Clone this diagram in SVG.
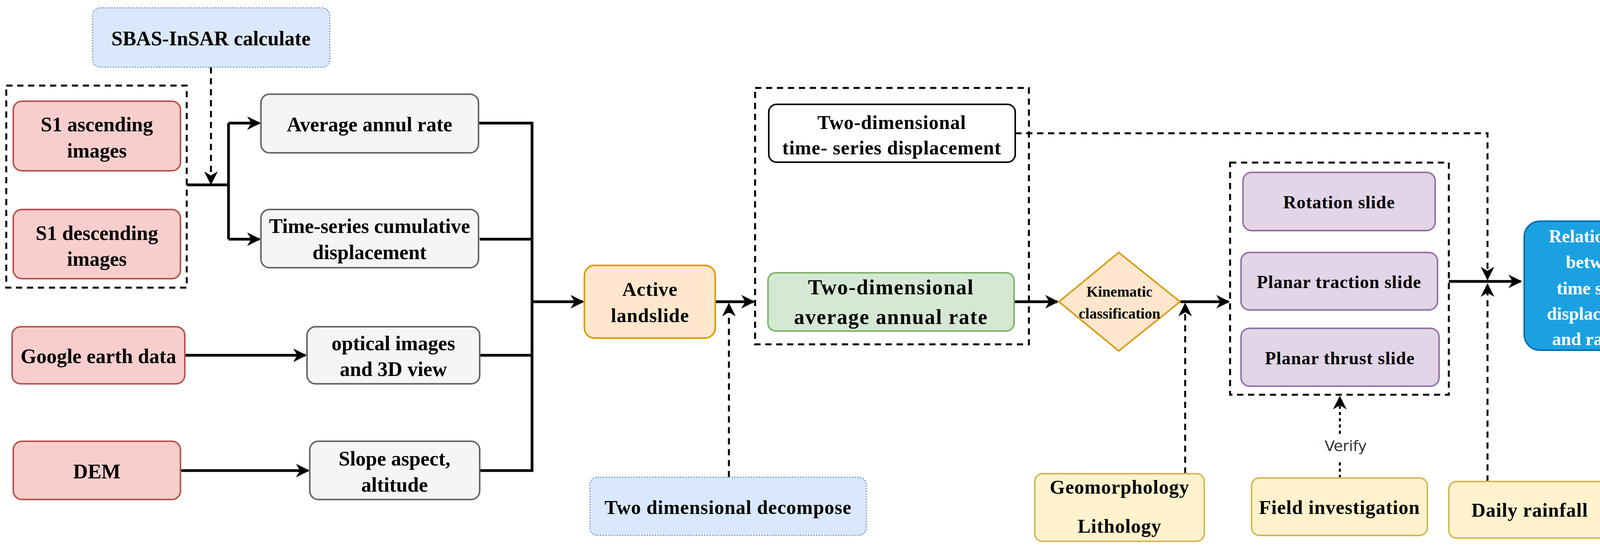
<svg xmlns="http://www.w3.org/2000/svg" width="4282" height="1397" viewBox="0 0 4282 1397">
<defs>
<style>
text{font-family:"Liberation Serif","Times New Roman",serif;font-weight:bold;fill:#000;text-anchor:middle;dominant-baseline:central}
.red{fill:#f8cecc;stroke:#b85450;stroke-width:4}
.gray{fill:#f5f5f5;stroke:#666;stroke-width:4}
.blued{fill:#dae8fc;stroke:#6c8ebf;stroke-width:3;stroke-dasharray:3 4}
.yel{fill:#fff2cc;stroke:#d6b656;stroke-width:4}
.pur{fill:#e1d5e7;stroke:#9673a6;stroke-width:4}
.grp{fill:none;stroke:#000;stroke-width:5;stroke-dasharray:16 12}
.ln{fill:none;stroke:#000;stroke-width:7}
.ds{fill:none;stroke:#000;stroke-width:5;stroke-dasharray:16 12}
.t52{font-size:52px}
.t50{font-size:50px;letter-spacing:1px}
.t46{font-size:46px;letter-spacing:1px}
.w{fill:#fff;font-size:46px}
</style>
<marker id="ah" viewBox="0 0 10 10" refX="9" refY="5" markerWidth="5" markerHeight="5" markerUnits="strokeWidth" orient="auto"><path d="M0,0 L10,5 L0,10 L3,5 Z" fill="#000"/></marker>
<marker id="ahs" viewBox="0 0 10 10" refX="9" refY="5" markerWidth="7" markerHeight="7" markerUnits="strokeWidth" orient="auto"><path d="M0,0 L10,5 L0,10 L3,5 Z" fill="#000"/></marker>
</defs>
<g id="connectors">
<path class="ds" d="M540,172 V470" marker-end="url(#ahs)"/>
<path class="ln" d="M478,473 H585"/>
<path class="ln" d="M585,315 V612"/>
<path class="ln" d="M585,315 H664" marker-end="url(#ah)"/>
<path class="ln" d="M585,612 H664" marker-end="url(#ah)"/>
<path class="ln" d="M473,909 H782" marker-end="url(#ah)"/>
<path class="ln" d="M462,1204 H789" marker-end="url(#ah)"/>
<path class="ln" d="M1225,315 H1362 V1204 H1228"/>
<path class="ln" d="M1228,612 H1362 M1228,909 H1362"/>
<path class="ln" d="M1362,772 H1492" marker-end="url(#ah)"/>
<path class="ln" d="M1831,772 H1929" marker-end="url(#ah)"/>
<path class="ds" d="M1866,1221 V778" marker-end="url(#ahs)"/>
<path class="ln" d="M2596,772 H2707" marker-end="url(#ah)"/>
<path class="ln" d="M3021,772 H3145" marker-end="url(#ah)"/>
<path class="ds" d="M3034,1212 V778" marker-end="url(#ahs)"/>
<path class="ds" d="M2599,341 H3808 V714" marker-end="url(#ahs)"/>
<path class="ln" d="M3709,720 H3893" marker-end="url(#ah)"/>
<path class="ds" d="M3808,1232 V728" marker-end="url(#ahs)"/>
<path class="ds" d="M3430,1223 V1175 M3430,1110 V1016" marker-end="url(#ahs)" style="stroke-dasharray:8 8"/>
<text x="3445" y="1141" style="font-family:'DejaVu Sans',sans-serif;font-weight:normal;font-size:38px;fill:#333">Verify</text>
</g>
<g id="group-s1"><rect class="grp" x="16" y="219" width="462" height="517"/></g>
<g id="group-2d"><rect class="grp" x="1933" y="225" width="701" height="656"/></g>
<g id="group-slides"><rect class="grp" x="3149" y="416" width="560" height="594"/></g>
<g id="sbas"><rect class="blued" x="237" y="20" width="607" height="152" rx="20"/><text class="t52" x="540" y="98">SBAS-InSAR calculate</text></g>
<g id="s1asc"><rect class="red" x="34" y="259" width="428" height="178" rx="22"/><text class="t52" x="248" y="318">S1 ascending</text><text class="t52" x="248" y="385">images</text></g>
<g id="s1desc"><rect class="red" x="34" y="536" width="428" height="177" rx="22"/><text class="t52" x="248" y="596">S1 descending</text><text class="t52" x="248" y="662">images</text></g>
<g id="avg"><rect class="gray" x="668" y="241" width="557" height="150" rx="22"/><text class="t52" x="946" y="318">Average annul rate</text></g>
<g id="ts"><rect class="gray" x="668" y="536" width="557" height="149" rx="22"/><text class="t52" x="946" y="578">Time-series cumulative</text><text class="t52" x="946" y="645">displacement</text></g>
<g id="google"><rect class="red" x="31" y="836" width="442" height="146" rx="22"/><text class="t52" x="252" y="911">Google earth data</text></g>
<g id="optical"><rect class="gray" x="786" y="836" width="442" height="146" rx="22"/><text class="t52" x="1007" y="878">optical images</text><text class="t52" x="1007" y="944">and 3D view</text></g>
<g id="dem"><rect class="red" x="34" y="1129" width="428" height="149" rx="22"/><text class="t52" x="248" y="1206">DEM</text></g>
<g id="slope"><rect class="gray" x="793" y="1129" width="435" height="149" rx="22"/><text class="t52" x="1010" y="1173">Slope aspect,</text><text class="t52" x="1010" y="1240">altitude</text></g>
<g id="active"><rect fill="#ffe6cc" stroke="#d79b00" stroke-width="4" x="1496" y="679" width="335" height="186" rx="26"/><text class="t50" x="1664" y="740">Active</text><text class="t50" x="1664" y="807">landslide</text></g>
<g id="ts2d"><rect fill="#fff" stroke="#000" stroke-width="4" x="1968" y="267" width="631" height="148" rx="20"/><text class="t50" x="2283" y="313">Two-dimensional</text><text class="t50" x="2283" y="378">time- series displacement</text></g>
<g id="avg2d"><rect fill="#d5e8d4" stroke="#82b366" stroke-width="4" x="1966" y="698" width="630" height="149" rx="20"/><text x="2281" y="735" style="font-size:54px;letter-spacing:2px">Two-dimensional</text><text x="2281" y="811" style="font-size:54px;letter-spacing:2px">average annual rate</text></g>
<g id="decompose"><rect class="blued" x="1510" y="1221" width="708" height="149" rx="20"/><text class="t50" x="1864" y="1298">Two dimensional decompose</text></g>
<g id="kinematic"><polygon fill="#ffe6cc" stroke="#d79b00" stroke-width="4" points="2711,772 2864,646 3021,772 2864,898"/><text x="2866" y="746" style="font-size:38px">Kinematic</text><text x="2866" y="802" style="font-size:38px">classification</text></g>
<g id="rotation"><rect class="pur" x="3182" y="441" width="492" height="149" rx="22"/><text class="t46" x="3428" y="517">Rotation slide</text></g>
<g id="traction"><rect class="pur" x="3177" y="646" width="503" height="147" rx="22"/><text class="t46" x="3428" y="721">Planar traction slide</text></g>
<g id="thrust"><rect class="pur" x="3177" y="840" width="507" height="148" rx="22"/><text class="t46" x="3430" y="916">Planar thrust slide</text></g>
<g id="relation"><rect fill="#1ba1e2" stroke="#006eaf" stroke-width="4" x="3902" y="566" width="374" height="330" rx="40"/><text class="w" x="4089" y="604">Relationship</text><text class="w" x="4089" y="670">between</text><text class="w" x="4089" y="737">time series</text><text class="w" x="4089" y="802">displacement</text><text class="w" x="4089" y="867">and rainfall</text></g>
<g id="geo"><rect class="yel" x="2649" y="1212" width="434" height="173" rx="20"/><text class="t50" x="2866" y="1246">Geomorphology</text><text class="t50" x="2866" y="1346">Lithology</text></g>
<g id="field"><rect class="yel" x="3204" y="1223" width="450" height="147" rx="20"/><text class="t50" x="3429" y="1298">Field investigation</text></g>
<g id="rain"><rect class="yel" x="3709" y="1232" width="434" height="145" rx="20"/><text class="t50" x="3916" y="1305">Daily rainfall</text></g>
</svg>
